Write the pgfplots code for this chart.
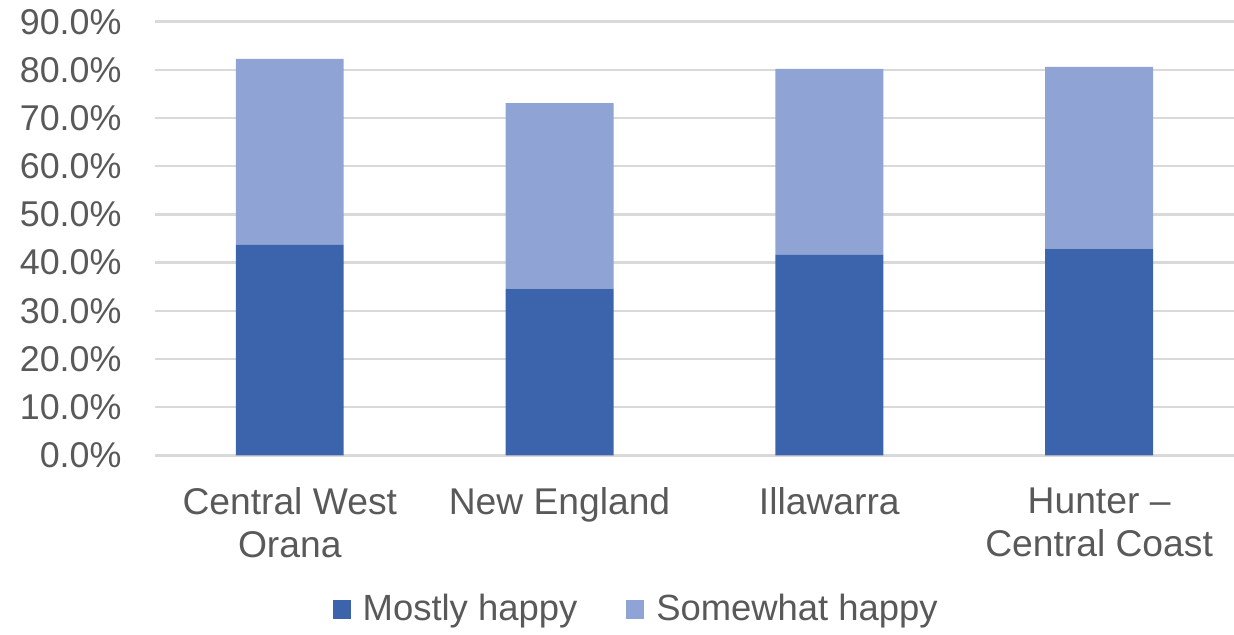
\documentclass[border=0pt]{standalone}
\usepackage{pgfplots}
\pgfplotsset{compat=1.18}
\usepackage{fontspec}
\setmainfont{Liberation Sans}
\definecolor{darkb}{RGB}{60,100,172}
\definecolor{lightb}{RGB}{143,164,212}
\definecolor{txt}{RGB}{89,89,89}
\definecolor{gridc}{RGB}{217,217,217}
\begin{document}
\begin{tikzpicture}
\begin{axis}[
  scale only axis,
  width=540bp, height=217bp,
  xmin=-0.5, xmax=3.5, ymin=0, ymax=90,
  ybar stacked, bar width=0.4,
  axis line style={draw=none},
  major tick length=0pt,
  ymajorgrids=true, xmajorgrids=false,
  major grid style={draw=gridc, line width=1.2bp},
  ytick={0,10,...,90},
  xtick={0,1,2,3},
  xticklabels={{Central West\\Orana},{New England},{Illawarra},{Hunter --\\Central Coast}},
  /pgf/number format/assume math mode=true,
  yticklabel={\pgfmathprintnumber[fixed,fixed zerofill,precision=1]{\tick}\%},
  yticklabel style={anchor=east, inner sep=0pt, xshift=-16.5bp, text=txt, font=\fontsize{18}{21.5}\selectfont},
  xticklabel style={anchor=north, inner sep=0pt, yshift=-16bp, align=center, text=txt, font=\fontsize{18.7}{21.5}\selectfont},
  legend columns=2,
  legend style={draw=none, at={(0.447,-0.355)}, anchor=center, font=\fontsize{18.3}{21.5}\selectfont, text=txt,
    /tikz/every odd column/.append style={column sep=4bp},
    /tikz/every even column/.append style={column sep=22.5bp}},
  legend image code/.code={\fill[#1] (0bp,-4.7bp) rectangle (9bp,4.7bp);},
]
\addplot[fill=darkb, draw=none] coordinates {(0,43.7) (1,34.6) (2,41.6) (3,42.9)};
\addplot[fill=lightb, draw=none] coordinates {(0,38.6) (1,38.5) (2,38.6) (3,37.7)};
\legend{Mostly happy, Somewhat happy}
\end{axis}
\pgfresetboundingbox
\path ([xshift=-77.5bp,yshift=-89.65bp]current axis.south west) rectangle ([yshift=10.85bp]current axis.north east);
\end{tikzpicture}
\end{document}
